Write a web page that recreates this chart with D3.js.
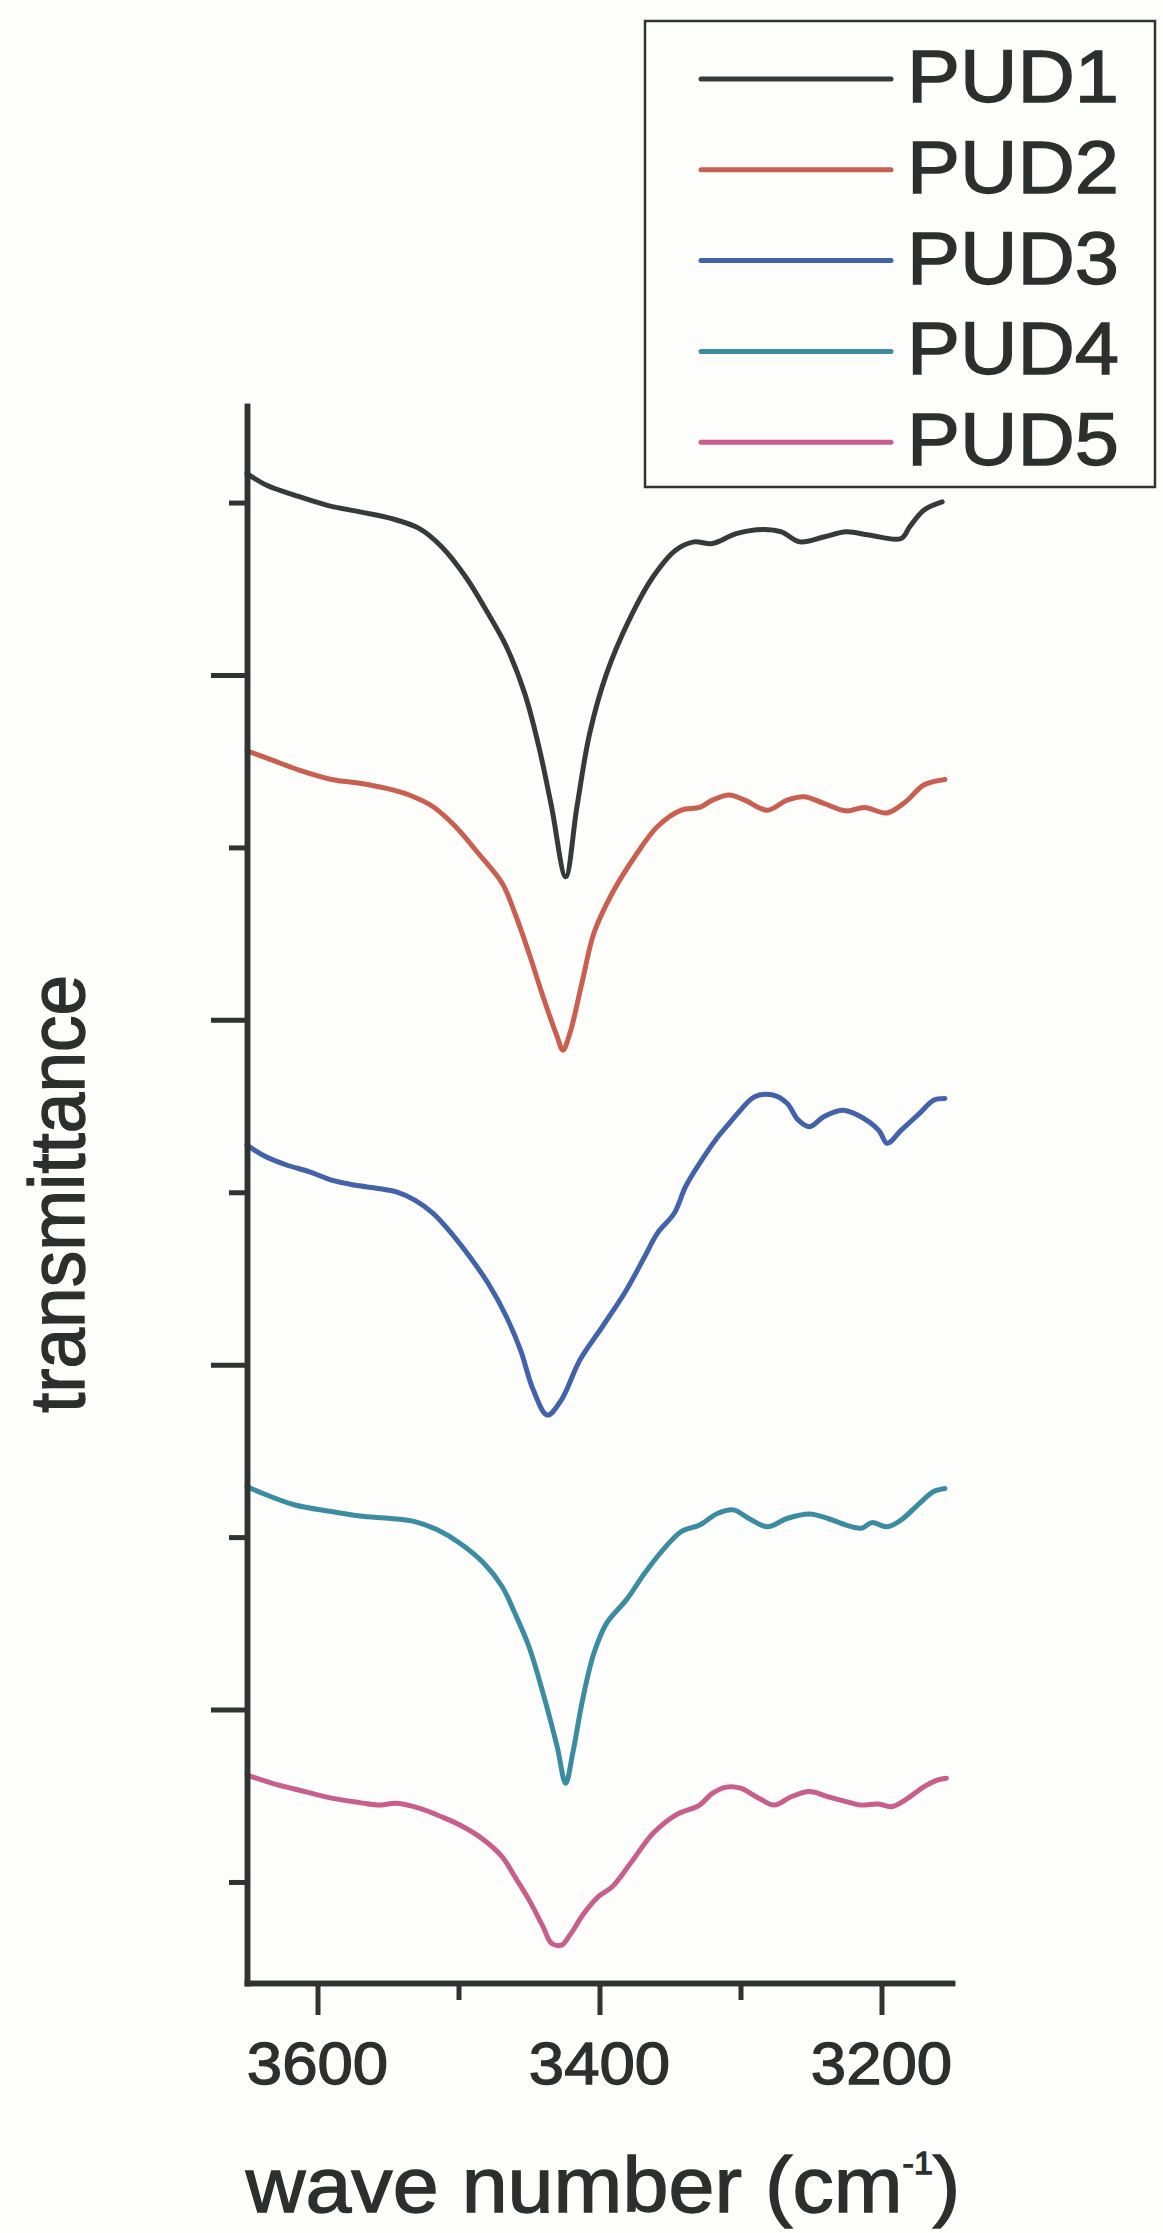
<!DOCTYPE html>
<html>
<head>
<meta charset="utf-8">
<script src="https://cdn.jsdelivr.net/npm/d3@7"></script>
<style>
  html, body { margin: 0; padding: 0; background: #fdfdfb; }
  svg { display: block; }
  text {
    font-family: "Liberation Sans", Arial, Helvetica, sans-serif;
    fill: #2b302f;
    stroke: #2b302f;
    stroke-width: 1.3px;
    paint-order: stroke;
  }
</style>
</head>
<body>
<svg id="chart" width="1163" height="2233"></svg>
<script>
// FTIR spectra in the O-H / N-H stretching region, stacked with offsets.
// Each point: [wave number (cm-1), transmittance (offset, arbitrary units)]
const seriesNames = ["PUD1", "PUD2", "PUD3", "PUD4", "PUD5"];

const pud1 = [
  [3650,4.584],[3636,4.550],[3616,4.521],[3593,4.492],[3570,4.473],[3548,4.454],
  [3528,4.425],[3512,4.372],[3495,4.285],[3479,4.178],[3466,4.082],[3453,3.946],
  [3443,3.792],[3434,3.618],[3424,3.415],[3416,3.618],[3407,3.830],[3395,4.004],
  [3378,4.168],[3362,4.285],[3346,4.362],[3333,4.386],[3320,4.381],[3303,4.410],
  [3284,4.422],[3271,4.415],[3258,4.386],[3241,4.400],[3225,4.415],[3209,4.406],
  [3186,4.396],[3180,4.430],[3170,4.478],[3157,4.502]
];
const pud2 = [
  [3650,3.780],[3632,3.753],[3613,3.724],[3590,3.697],[3570,3.686],[3551,3.671],
  [3535,3.652],[3518,3.618],[3502,3.560],[3486,3.483],[3469,3.396],[3460,3.309],
  [3450,3.193],[3440,3.067],[3430,2.951],[3426,2.912],[3421,2.961],[3412,3.115],
  [3404,3.251],[3391,3.367],[3375,3.473],[3359,3.560],[3342,3.608],[3329,3.616],
  [3320,3.637],[3308,3.652],[3297,3.637],[3281,3.608],[3267,3.637],[3255,3.647],
  [3241,3.628],[3225,3.606],[3212,3.616],[3196,3.600],[3183,3.632],[3170,3.681],
  [3155,3.697]
];
const pud3 = [
  [3650,2.637],[3639,2.608],[3622,2.579],[3606,2.560],[3590,2.535],[3574,2.521],
  [3557,2.511],[3544,2.501],[3531,2.477],[3518,2.439],[3505,2.381],[3492,2.313],
  [3479,2.236],[3466,2.139],[3456,2.042],[3447,1.927],[3437,1.854],[3427,1.898],
  [3414,2.013],[3398,2.110],[3381,2.216],[3368,2.313],[3359,2.381],[3347,2.439],
  [3339,2.516],[3329,2.584],[3316,2.661],[3310,2.690],[3300,2.738],[3290,2.777],
  [3277,2.782],[3267,2.758],[3259,2.709],[3251,2.690],[3241,2.719],[3228,2.738],
  [3217,2.724],[3202,2.680],[3196,2.642],[3186,2.680],[3173,2.729],[3163,2.767],
  [3155,2.772]
];
const pud4 = [
  [3650,1.646],[3636,1.622],[3616,1.593],[3590,1.574],[3570,1.561],[3548,1.554],
  [3531,1.545],[3515,1.521],[3499,1.482],[3482,1.424],[3469,1.356],[3460,1.279],
  [3450,1.182],[3440,1.047],[3430,0.892],[3424,0.786],[3419,0.873],[3412,1.028],
  [3404,1.163],[3395,1.250],[3381,1.318],[3368,1.395],[3355,1.463],[3342,1.516],
  [3329,1.535],[3316,1.569],[3305,1.579],[3294,1.554],[3281,1.530],[3267,1.554],
  [3251,1.567],[3238,1.554],[3225,1.535],[3214,1.526],[3207,1.542],[3196,1.530],
  [3186,1.550],[3173,1.598],[3163,1.632],[3155,1.641]
];
const pud5 = [
  [3650,0.810],[3632,0.786],[3609,0.762],[3590,0.743],[3570,0.730],[3557,0.723],
  [3544,0.728],[3528,0.714],[3512,0.689],[3499,0.665],[3482,0.622],[3469,0.573],
  [3460,0.515],[3450,0.448],[3440,0.370],[3434,0.322],[3427,0.317],[3421,0.346],
  [3411,0.409],[3401,0.457],[3391,0.486],[3378,0.554],[3362,0.641],[3346,0.694],
  [3329,0.723],[3320,0.757],[3310,0.775],[3300,0.772],[3287,0.743],[3276,0.723],
  [3264,0.747],[3251,0.762],[3238,0.747],[3225,0.733],[3215,0.723],[3202,0.726],
  [3193,0.718],[3183,0.738],[3170,0.776],[3160,0.796],[3154,0.801]
];
const seriesData = [pud1, pud2, pud3, pud4, pud5];

// Axis ticks
const xMajorTicks = [3600, 3400, 3200];
const xMinorTicks = [3500, 3300];
const xTickLabels = ["3600", "3400", "3200"];
const yMajorTicks = [1, 2, 3, 4];
const yMinorTicks = [0.5, 1.5, 2.5, 3.5, 4.5];

const xTitle = "wave number (cm";
const xTitleSup = "-1";
const yTitle = "transmittance";

// ---- styling ----
const colors = ["#353a3a", "#c9604f", "#4262a9", "#3b8ba2", "#c75e8c"];
const axisColor = "#2e3432";
const stretch = 1.06; // horizontal text stretch of the figure

const svg = d3.select("#chart");

const x = d3.scaleLinear().domain([3650, 3150]).range([247, 952]);
const y = d3.scaleLinear().domain([0.207, 4.78]).range([1983, 406]);

// Curves
const line = d3.line()
  .x(d => x(d[0]))
  .y(d => y(d[1]))
  .curve(d3.curveCatmullRom.alpha(0.5));

svg.append("g").selectAll("path")
  .data(seriesData)
  .join("path")
  .attr("d", line)
  .attr("fill", "none")
  .attr("stroke", (d, i) => colors[i])
  .attr("stroke-width", 5)
  .attr("stroke-linejoin", "round")
  .attr("stroke-linecap", "round");

// Axes
function styleAxis(g) {
  g.selectAll(".domain").attr("stroke", axisColor).attr("stroke-width", 5.5).attr("stroke-linecap", "square");
  g.selectAll(".tick line").attr("stroke", axisColor).attr("stroke-width", 5);
  g.selectAll(".tick text").remove();
}

svg.append("g")
  .attr("transform", `translate(0,${y.range()[0]})`)
  .call(d3.axisBottom(x).tickValues(xMinorTicks).tickSize(17).tickSizeOuter(0).tickFormat(""))
  .call(styleAxis);
svg.append("g")
  .attr("transform", `translate(0,${y.range()[0]})`)
  .call(d3.axisBottom(x).tickValues(xMajorTicks).tickSize(32).tickSizeOuter(0).tickFormat(""))
  .call(styleAxis);

svg.append("g")
  .attr("transform", `translate(${x.range()[0]},0)`)
  .call(d3.axisLeft(y).tickValues(yMinorTicks).tickSize(18).tickSizeOuter(0).tickFormat(""))
  .call(styleAxis);
svg.append("g")
  .attr("transform", `translate(${x.range()[0]},0)`)
  .call(d3.axisLeft(y).tickValues(yMajorTicks).tickSize(36).tickSizeOuter(0).tickFormat(""))
  .call(styleAxis);

// Tick labels
svg.append("g").selectAll("text")
  .data(xMajorTicks)
  .join("text")
  .attr("transform", d => `translate(${x(d)},2084) scale(${stretch},1)`)
  .attr("text-anchor", "middle")
  .attr("font-size", 60)
  .text((d, i) => xTickLabels[i]);

// Axis titles
const xt = svg.append("text")
  .attr("transform", `translate(603,2212) scale(${stretch},1)`)
  .attr("text-anchor", "middle")
  .attr("font-size", 78);
xt.append("tspan").text(xTitle);
xt.append("tspan").attr("font-size", 32).attr("dy", -38).text(xTitleSup);
xt.append("tspan").attr("dy", 38).text(")");

svg.append("text")
  .attr("transform", `translate(84,1194) scale(${stretch},1) rotate(-90)`)
  .attr("text-anchor", "middle")
  .attr("font-size", 73)
  .text(yTitle);

// Legend
const legend = svg.append("g");
legend.append("rect")
  .attr("x", 645).attr("y", 21).attr("width", 510).attr("height", 466)
  .attr("fill", "none").attr("stroke", axisColor).attr("stroke-width", 2.5);

const rows = legend.selectAll("g.row")
  .data(seriesNames)
  .join("g")
  .attr("class", "row")
  .attr("transform", (d, i) => `translate(0,${79 + i * 90.8})`);
rows.append("line")
  .attr("x1", 701).attr("x2", 891)
  .attr("stroke", (d, i) => colors[i])
  .attr("stroke-width", 5)
  .attr("stroke-linecap", "round");
rows.append("text")
  .attr("transform", `translate(907,23) scale(${stretch},1)`)
  .attr("font-size", 75)
  .text(d => d);
</script>
</body>
</html>
